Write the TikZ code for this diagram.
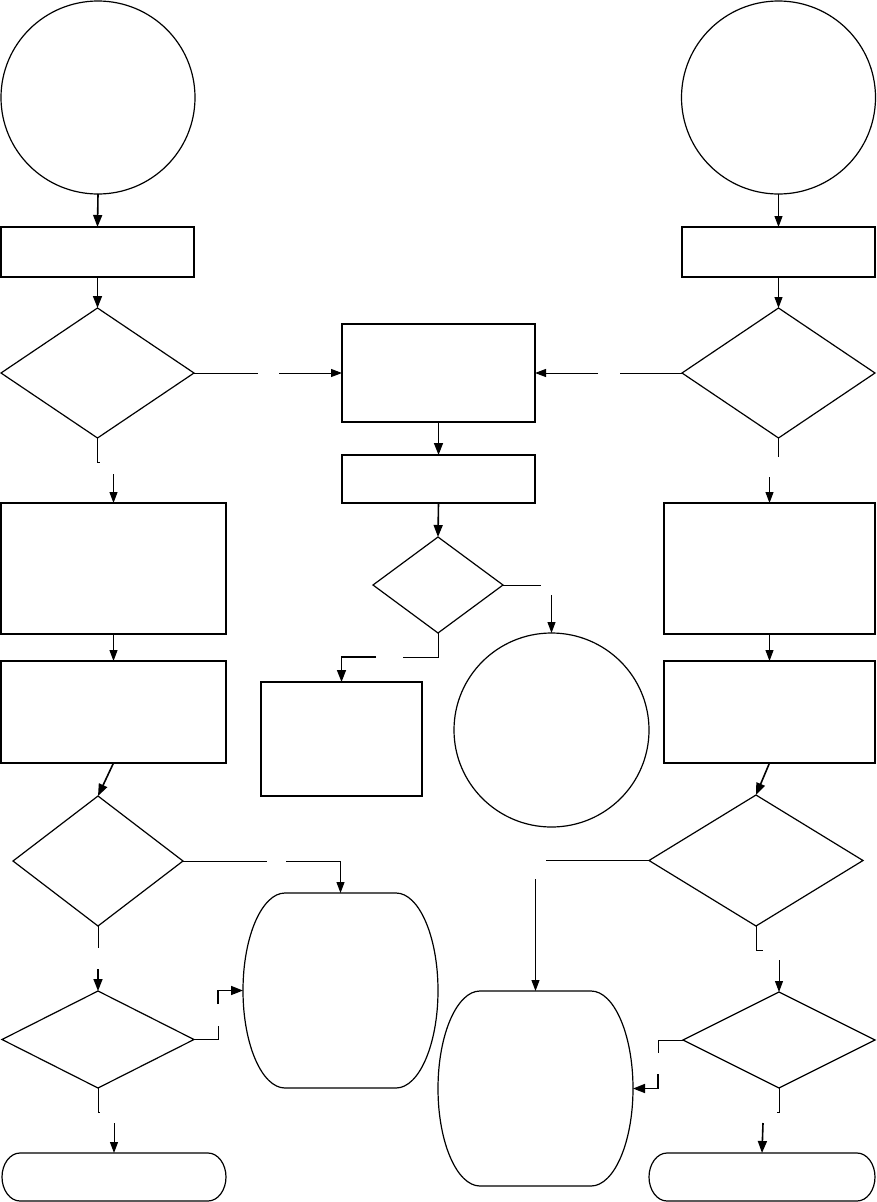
\documentclass[tikz,border=0pt]{standalone}
\usepackage{tikz}
\usetikzlibrary{shapes.geometric,arrows.meta}

\begin{document}
\begin{tikzpicture}[x=1pt, y=-1pt, line width=1.2pt,
  box/.style={draw, rectangle, inner sep=0pt, outer sep=0pt},
  decision/.style={draw, diamond, inner sep=0pt, outer sep=0pt},
  bubble/.style={draw, ellipse, inner sep=0pt, outer sep=0pt},
  terminal/.style={rectangle, inner sep=0pt, outer sep=0pt},
  blob/.style={rectangle, inner sep=0pt, outer sep=0pt},
  link/.style={line width=1pt},
  flow/.style={line width=1pt, -{Triangle[length=11pt,width=8pt]}},
  flowthick/.style={line width=1.6pt, -{Triangle[length=12pt,width=9pt]}}]

\useasboundingbox (0,0) rectangle (877,1202);

% left column
\node[bubble, minimum width=194pt, minimum height=193pt] (beginl) at (98,97.5) {};
\node[box, minimum width=193pt, minimum height=50pt] (initl) at (97.5,252) {};
\node[decision, minimum width=193pt, minimum height=130pt] (testl) at (97.5,373) {};
\node[box, minimum width=225pt, minimum height=131pt] (procl) at (113.5,568.5) {};
\node[box, minimum width=225pt, minimum height=102pt] (storel) at (113.5,712) {};
\node[decision, minimum width=170pt, minimum height=130pt] (checkl) at (98,861) {};
\node[decision, minimum width=192pt, minimum height=97pt] (againl) at (98,1039.5) {};
\node[terminal, minimum width=224pt, minimum height=48pt] (endl) at (114,1177) {};

% right column
\node[bubble, minimum width=194pt, minimum height=193pt] (beginr) at (778.5,97.5) {};
\node[box, minimum width=193pt, minimum height=50pt] (initr) at (778.5,252) {};
\node[decision, minimum width=193pt, minimum height=130pt] (testr) at (778.5,373) {};
\node[box, minimum width=211pt, minimum height=131pt] (procr) at (769.5,568.5) {};
\node[box, minimum width=211pt, minimum height=102pt] (storer) at (769.5,712) {};
\node[decision, minimum width=214pt, minimum height=131pt] (checkr) at (756,860.5) {};
\node[decision, minimum width=192pt, minimum height=96pt] (againr) at (779,1040) {};
\node[terminal, minimum width=226pt, minimum height=48pt] (endr) at (762,1177) {};

% middle
\node[box, minimum width=193pt, minimum height=98pt] (merge) at (438.5,373) {};
\node[box, minimum width=193pt, minimum height=48pt] (prep) at (438.5,479) {};
\node[decision, minimum width=130pt, minimum height=96pt] (choice) at (438,585) {};
\node[box, minimum width=161pt, minimum height=114pt] (fail) at (341.5,739) {};
\node[bubble, minimum width=195pt, minimum height=194pt] (done) at (551.5,730) {};
\node[blob, minimum width=195pt, minimum height=195pt] (outl) at (340.5,990.5) {};
\node[blob, minimum width=195pt, minimum height=195pt] (outr) at (535.5,1088.5) {};

% outlines of the rounded ends
\foreach \n/\r/\c/\v in {outl/42/23/54, outr/42/23/54, endl/18/10/13, endr/18/10/13}
  \draw ([xshift=\r pt]\n.north west) -- ([xshift=-\r pt]\n.north east)
    .. controls +(\c,0) and +(0,-\v) .. (\n.east)
    .. controls +(0,\v) and +(\c,0) .. ([xshift=-\r pt]\n.south east)
    -- ([xshift=\r pt]\n.south west)
    .. controls +(-\c,0) and +(0,\v) .. (\n.west)
    .. controls +(0,-\v) and +(-\c,0) .. ([xshift=\r pt]\n.north west);

% free ends at the gaps
\coordinate (tl1) at (258,373);     \coordinate (tl2) at (279,373);
\coordinate (tr1) at (620,373);     \coordinate (tr2) at (598,373);
\coordinate (pl1) at (99.5,462);    \coordinate (pl2) at (113.5,474);
\coordinate (pr1) at (778.5,457);   \coordinate (pr2) at (769.5,477);
\coordinate (ch1) at (541,585);     \coordinate (ch2) at (551.5,595);
\coordinate (cf1) at (403,657);     \coordinate (cf2) at (376,657);
\coordinate (kl1) at (267,861);     \coordinate (kl2) at (286,861);
\coordinate (kr1) at (546,860.5);   \coordinate (kr2) at (535.5,879);
\coordinate (al1) at (98,948);      \coordinate (al2) at (98,969);
\coordinate (ar1) at (763,950);     \coordinate (ar2) at (779,960);
\coordinate (ol1) at (218,1026);    \coordinate (ol2) at (218,1004);
\coordinate (or1) at (658,1053);    \coordinate (or2) at (658,1074);
\coordinate (el1) at (100,1112);    \coordinate (el2) at (114,1123);
\coordinate (er1) at (777,1112);    \coordinate (er2) at (763,1123);

\draw[flowthick] (beginl.south) -- (initl.north);
\draw[flowthick] (initl.south) -- (testl.north);
\draw[flow] (beginr.south) -- (initr.north);
\draw[flow] (initr.south) -- (testr.north);

\draw[link] (testl.east) -- (tl1);
\draw[flow] (tl2) -- (merge.west);
\draw[link] (testr.west) -- (tr1);
\draw[flow] (tr2) -- (merge.east);

\draw[link] (testl.south) |- (pl1);
\draw[flow] (pl2) -- (procl.north);
\draw[link] (testr.south) -- (pr1);
\draw[flow] (pr2) -- (procr.north);

\draw[flow] (procl.south) -- (storel.north);
\draw[flow] (procr.south) -- (storer.north);
\draw[flowthick] (storel.south) -- (checkl.north);
\draw[flowthick] (storer.south) -- (checkr.north);

\draw[flowthick] (merge.south) -- (prep.north);
\draw[flowthick] (prep.south) -- (choice.north);
\draw[link] (choice.east) -- (ch1);
\draw[flow] (ch2) -- (done.north);
\draw[link] (choice.south) |- (cf1);
\draw[flowthick] (cf2) -| (fail.north);

\draw[link] (checkl.east) -- (kl1);
\draw[flow] (kl2) -| (outl.north);
\draw[link] (checkr.west) -- (kr1);
\draw[flow] (kr2) -- (outr.north);

\draw[link] (checkl.south) -- (al1);
\draw[flowthick] (al2) -- (againl.north);
\draw[link] (checkr.south) |- (ar1);
\draw[flow] (ar2) -- (againr.north);

\draw[link] (againl.east) -| (ol1);
\draw[flowthick] (ol2) |- (outl.west);
\draw[link] (againr.west) -| (or1);
\draw[flowthick] (or2) |- (outr.east);

\draw[link] (againl.south) |- (el1);
\draw[flow] (el2) -- (endl.north);
\draw[link] (againr.south) |- (er1);
\draw[flowthick] (er2) -- (endr.north);
\end{tikzpicture}
\end{document}
